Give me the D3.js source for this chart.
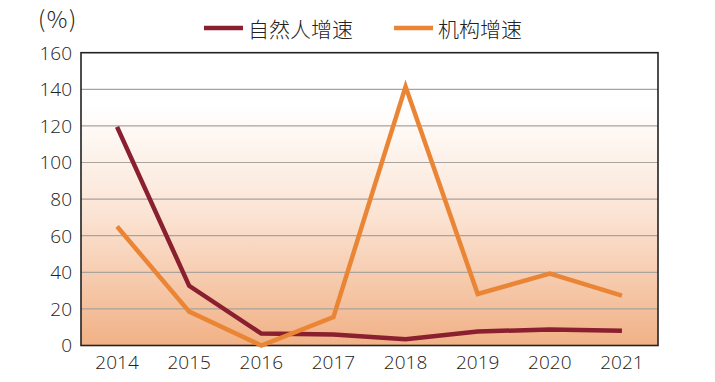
<!DOCTYPE html>
<html><head><meta charset="utf-8">
<script src="https://cdn.jsdelivr.net/npm/d3@7"></script>
<style>body{margin:0;background:#fff}svg{display:block}</style>
</head><body><svg id="c" width="715" height="382"></svg>
<script>
const years = ["2014","2015","2016","2017","2018","2019","2020","2021"];
const naturalGrowth = [119.5, 32.6, 6.5, 6, 3.4, 7.7, 8.7, 8];
const institutionGrowth = [65, 18.5, 0, 15.5, 141.5, 28.2, 39.3, 27.3];
const yTicks = [0,20,40,60,80,100,120,140,160];
const seriesNames = ["自然人增速","机构增速"];
const seriesColors = ["#8a1f30","#ea8535"];

const svg = d3.select("#c");
const m = {l:81, r:658, t:52.7, b:345.5};
const x = d3.scaleBand().domain(years).range([m.l, m.r]);
const y = d3.scaleLinear().domain([0,160]).range([m.b, m.t]);

const defs = svg.append("defs");
const g = defs.append("linearGradient").attr("id","bg").attr("x1",0).attr("x2",0).attr("y1",0).attr("y2",1);
g.append("stop").attr("offset","0%").attr("stop-color","#ffffff");
g.append("stop").attr("offset","18%").attr("stop-color","#ffffff");
g.append("stop").attr("offset","55%").attr("stop-color","#fbe4d4");
g.append("stop").attr("offset","100%").attr("stop-color","#f1b186");

svg.append("rect").attr("x",m.l).attr("y",m.t).attr("width",m.r-m.l).attr("height",m.b-m.t).attr("fill","url(#bg)");

svg.append("g").selectAll("line").data(yTicks.filter(d=>d>0&&d<160)).join("line")
  .attr("x1",m.l).attr("x2",m.r).attr("y1",d=>y(d)).attr("y2",d=>y(d))
  .attr("stroke","#a9a29d").attr("stroke-width",1.2);

svg.append("rect").attr("x",m.l).attr("y",m.t).attr("width",m.r-m.l).attr("height",m.b-m.t)
  .attr("fill","none").attr("stroke","#222").attr("stroke-width",1.6);

const font = "'Open Sans', 'Liberation Sans', sans-serif";
const ya = svg.append("g").attr("transform",`translate(${m.l-9},0)`);
ya.selectAll("text").data(yTicks).join("text")
  .attr("x",0).attr("y",d=>y(d)).attr("dy","0.36em").attr("text-anchor","end")
  .attr("font-family",font).attr("font-weight",300).attr("font-size",19).attr("fill","#222").text(d=>d);

const xa = svg.append("g").attr("transform",`translate(0,${m.b+17})`);
xa.selectAll("text").data(years).join("text")
  .attr("x",d=>x(d)+x.bandwidth()/2).attr("y",0).attr("dy","0.36em").attr("text-anchor","middle")
  .attr("font-family",font).attr("font-weight",300).attr("font-size",19).attr("fill","#222").text(d=>d);

svg.append("text").attr("x",38).attr("y",28).attr("font-family","'Noto Sans CJK SC', sans-serif")
  .attr("font-weight",300).attr("font-size",23).attr("letter-spacing",1.5).attr("fill","#222").text("(%)");

const line = d3.line().x((d,i)=>x(years[i])+x.bandwidth()/2).y(d=>y(d));
[naturalGrowth, institutionGrowth].forEach((s,i)=>{
  svg.append("path").datum(s).attr("d",line).attr("fill","none")
    .attr("stroke",seriesColors[i]).attr("stroke-width",4.5).attr("stroke-linejoin","miter");
});

const legX = [204, 394];
seriesNames.forEach((n,i)=>{
  svg.append("line").attr("x1",legX[i]).attr("x2",legX[i]+39).attr("y1",28).attr("y2",28)
    .attr("stroke",seriesColors[i]).attr("stroke-width",4.5);
  svg.append("text").attr("x",legX[i]+44).attr("y",29).attr("dy","0.36em")
    .attr("font-family","'Noto Sans CJK SC', sans-serif").attr("font-weight",300).attr("font-size",21)
    .attr("fill","#222").text(n);
});
</script></body></html>
